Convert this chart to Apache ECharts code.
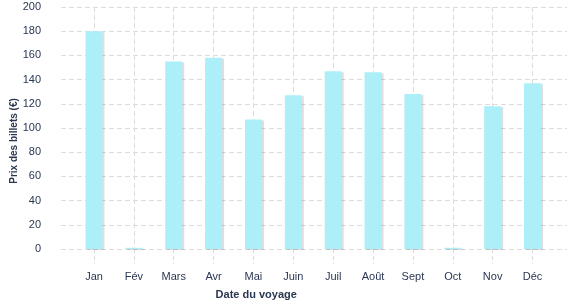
<!DOCTYPE html>
<html><head><meta charset="utf-8">
<script src="https://cdn.jsdelivr.net/npm/echarts@6/dist/echarts.min.js"></script>
<style>html,body{margin:0;padding:0;background:#fff}#c{width:577px;height:300px}</style>
</head><body><div id="c"></div>
<script>
const categories = ['Jan','Fév','Mars','Avr','Mai','Juin','Juil','Août','Sept','Oct','Nov','Déc'];
const prices = [180, 1, 155, 158, 107, 127, 147, 146, 128, 1, 118, 137];
const yTicks = [0, 20, 40, 60, 80, 100, 120, 140, 160, 180, 200];
const yTitle = 'Prix des billets (€)';
const xTitle = 'Date du voyage';

const textColor = '#2a3752';
const gridColor = '#dcdcdc';
const font = 'Liberation Sans, Arial, sans-serif';

const chart = echarts.init(document.getElementById('c'), null, {renderer: 'canvas'});
chart.setOption({
  animation: false,
  grid: [
    {left: 61, right: 10, top: 7, bottom: 51, containLabel: false, outerBoundsMode: 'none'},
    {left: 94, right: 44.5, top: 7, bottom: 51, containLabel: false, outerBoundsMode: 'none'}
  ],
  graphic: [{
    type: 'text', x: 14, y: 141, rotation: Math.PI / 2,
    style: {text: yTitle, fill: textColor, font: 'bold 10px ' + font, align: 'center', verticalAlign: 'middle', letterSpacing: -0.55}
  }],
  xAxis: [
    {gridIndex: 0, type: 'value', min: 0, max: 1, show: false},
    {gridIndex: 1, type: 'category', data: categories, boundaryGap: false,
     axisLine: {show: false},
     axisTick: {show: true, alignWithLabel: true, length: 15, lineStyle: {color: gridColor, type: [4, 3]}},
     axisLabel: {color: textColor, fontSize: 11, fontFamily: font, margin: 22, letterSpacing: -0.3},
     splitLine: {show: true, lineStyle: {color: gridColor, type: [5, 3], width: 1}},
     name: xTitle, nameLocation: 'middle', nameGap: 40,
     nameTextStyle: {color: textColor, fontSize: 11, fontWeight: 'bold', fontFamily: font, letterSpacing: -0.35, padding: [0, 114, 0, 0]}
    }
  ],
  yAxis: [
    {gridIndex: 0, type: 'value', min: 0, max: 200, interval: 20,
     axisLine: {show: false}, axisTick: {show: false},
     axisLabel: {color: textColor, fontSize: 11, fontFamily: font, margin: 20, letterSpacing: -0.3,
       customValues: yTicks},
     splitLine: {show: true, lineStyle: {color: gridColor, type: [5, 3], width: 1}}
    },
    {gridIndex: 1, type: 'value', min: 0, max: 200, show: false}
  ],
  series: [{
    type: 'bar', xAxisIndex: 1, yAxisIndex: 1, data: prices, barWidth: 17,
    itemStyle: {color: '#adeff8', shadowColor: 'rgba(0,0,0,0.13)', shadowOffsetX: 2, shadowOffsetY: 1, shadowBlur: 0}
  }]
});
</script></body></html>
